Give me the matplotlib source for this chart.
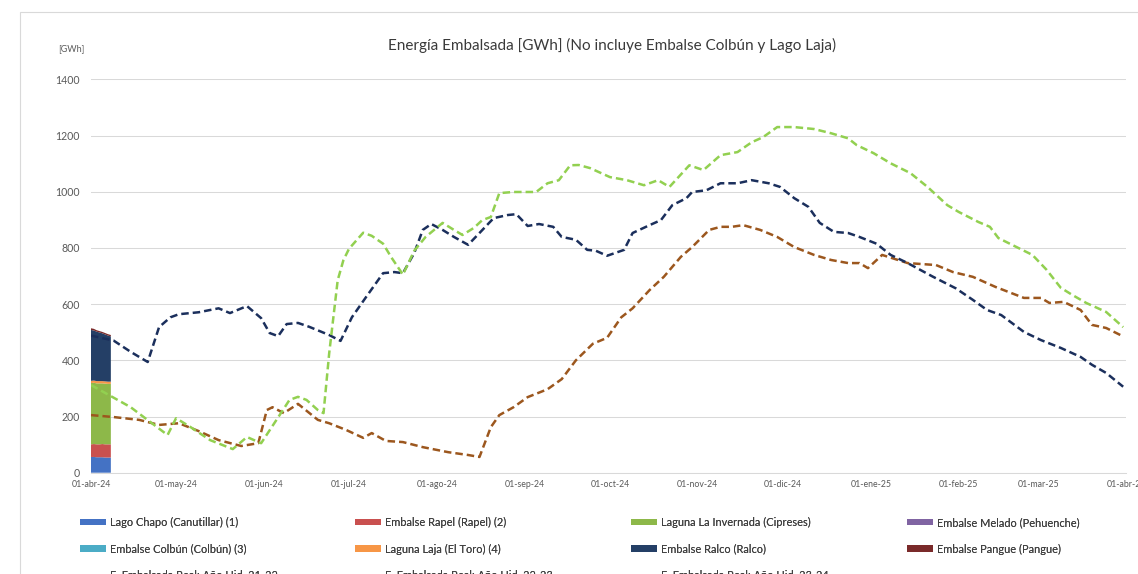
import numpy as np
import matplotlib
matplotlib.use("Agg")
import matplotlib.pyplot as plt
from matplotlib.patches import Patch, Rectangle
from matplotlib.lines import Line2D
from matplotlib.ticker import FixedLocator, FixedFormatter

plt.rcParams['font.family'] = ['Lato', 'DejaVu Sans']

START = np.datetime64('2024-04-01')

# --- current hydrological year 24-25 (stacked area, first days only)
area_days = [0, 1, 2, 3, 4, 5, 6, 7]
chapo = [56, 56, 55, 55, 55, 54, 54, 54]
rapel = [45, 46, 46, 46, 47, 47, 47, 47]
invernada = [218, 218, 217, 217, 216, 216, 215, 215]
melado = [0, 0, 0, 0, 0, 0, 0, 0]
colbun = [0, 0, 0, 0, 0, 0, 0, 0]
laja = [8, 8, 8, 8, 8, 8, 8, 8]
ralco = [181, 178, 176, 173, 170, 167, 164, 161]
pangue = [6, 6, 5, 5, 5, 5, 5, 5]

# --- E. Embalsada Real: Año Hid. 21-22
y2122_days = [0, 8, 17, 24, 31, 38, 45, 53, 59, 62, 64, 68, 73, 80, 84, 90, 96, 99, 104,
              110, 117, 126, 133, 137, 141, 144, 149, 154, 161, 166, 171, 177, 182, 187,
              191, 197, 202, 208, 212, 218, 222, 226, 230, 236, 242, 248, 255, 261, 267,
              271, 274, 279, 288, 298, 304, 311, 319, 329, 335, 338, 343, 349, 353, 358, 363]
y2122 = [205, 198, 188, 170, 176, 148, 116, 95, 105, 223, 233, 212, 245, 188, 176, 152, 124,
         141, 113, 109, 91, 73, 63, 56, 162, 205, 233, 269, 297, 333, 400, 459, 480, 553,
         585, 650, 697, 768, 803, 864, 875, 875, 881, 864, 839, 803, 775, 757, 746,
         746, 728, 775, 746, 739, 714, 697, 661, 622, 622, 604, 608, 579, 526, 515, 490]

# --- E. Embalsada Real: Año Hid. 22-23
y2223_days = [0, 8, 14, 20, 24, 28, 31, 38, 45, 49, 55, 60, 63, 66, 69, 73, 77, 84, 88, 92,
              97, 103, 107, 110, 114, 117, 120, 124, 128, 133, 137, 142, 147, 150, 154, 158,
              163, 166, 171, 175, 178, 182, 188, 191, 197, 201, 205, 210, 212, 217, 222,
              228, 233, 239, 243, 248, 253, 257, 262, 267, 271, 277, 282, 288, 297, 305,
              311, 316, 321, 329, 335, 342, 349, 353, 358, 364]
y2223 = [488, 470, 430, 394, 518, 553, 564, 571, 585, 568, 593, 550, 497, 486, 529, 533,
         519, 490, 469, 553, 625, 710, 714, 710, 782, 864, 885, 864, 839, 811, 853, 906,
         917, 920, 878, 885, 875, 839, 829, 793, 790, 772, 793, 853, 881, 899, 952, 977,
         999, 1005, 1030, 1030, 1041, 1030, 1017, 977, 946, 889, 857, 853, 839, 815, 775,
         746, 697, 656, 615, 579, 561, 501, 472, 444, 412, 384, 355, 306]

# --- E. Embalsada Real: Año Hid. 23-24
y2324_days = [0, 14, 27, 30, 35, 42, 50, 55, 60, 66, 70, 73, 76, 80, 82, 84, 87, 89, 91, 96,
              99, 103, 106, 110, 114, 118, 124, 128, 131, 135, 138, 141, 144, 149, 157, 161,
              165, 169, 172, 176, 183, 189, 195, 200, 204, 211, 216, 222, 228, 233, 237,
              242, 248, 255, 261, 267, 270, 276, 282, 289, 295, 302, 306, 313, 317, 320,
              327, 332, 337, 342, 346, 351, 358, 364]
y2324 = [312, 233, 134, 194, 163, 116, 84, 127, 105, 197, 259, 270, 259, 223, 212, 425, 685,
         756, 797, 854, 843, 815, 765, 705, 790, 839, 889, 864, 846, 871, 899, 910, 995, 999,
         999, 1030, 1041, 1094, 1095, 1084, 1052, 1041, 1023, 1041, 1017, 1094, 1077, 1130,
         1141, 1176, 1194, 1230, 1230, 1223, 1208, 1190, 1166, 1137, 1101, 1066, 1017, 952,
         928, 892, 875, 835, 800, 775, 722, 658, 633, 604, 572, 518]

month_labels = ['01-abr-24', '01-may-24', '01-jun-24', '01-jul-24', '01-ago-24', '01-sep-24',
                '01-oct-24', '01-nov-24', '01-dic-24', '01-ene-25', '01-feb-25', '01-mar-25',
                '01-abr-25']

area_names = ['Lago Chapo (Canutillar) (1)', 'Embalse Rapel (Rapel) (2)',
              'Laguna La Invernada (Cipreses)', 'Embalse Melado (Pehuenche)',
              'Embalse Colbún (Colbún) (3)', 'Laguna Laja (El Toro) (4)',
              'Embalse Ralco (Ralco)', 'Embalse Pangue (Pangue)']
area_colors = ['#4472C4', '#C9504F', '#8DB849', '#8064A2', '#4BACC6', '#F79646',
               '#243F66', '#7A2A2A']
line_names = ['E. Embalsada Real: Año Hid. 21-22', 'E. Embalsada Real: Año Hid. 22-23',
              'E. Embalsada Real: Año Hid. 23-24']
line_colors = ['#9C571E', '#1B2F5C', '#92D050']

W, H = 1138, 574
fig = plt.figure(figsize=(W / 100, H / 100), dpi=100)
fig.patch.set_facecolor('white')

# outer chart border (cut by the image edge)
fig.patches.append(Rectangle((20 / W, -0.2), 1.2, 1.2 - 12 / H,
                             transform=fig.transFigure, fill=False,
                             edgecolor='#D9D9D9', linewidth=0.8))

ax = fig.add_axes([91 / W, 101.3 / H, 1035 / W, 393.4 / H])

# stacked area
ax_dates = START + np.array(area_days)
stack = np.vstack([chapo, rapel, invernada, melado, colbun, laja, ralco, pangue])
ax.stackplot(ax_dates, stack, colors=area_colors, linewidth=0, zorder=2)

# dashed lines
ls = (0, (3, 1.6))
for d, v, c in [(y2122_days, y2122, line_colors[0]),
                (y2223_days, y2223, line_colors[1]),
                (y2324_days, y2324, line_colors[2])]:
    ax.plot(START + np.array(d), v, color=c, linewidth=1.8, linestyle=ls, zorder=3)

ax.set_ylim(0, 1400)
ax.set_xlim(START, START + 365)
ax.set_yticks(range(0, 1401, 200))
ax.yaxis.grid(True, color='#D9D9D9', linewidth=0.75)
ax.set_axisbelow(True)
for s in ['top', 'right', 'left']:
    ax.spines[s].set_visible(False)
ax.spines['bottom'].set_color('#D9D9D9')
ax.spines['bottom'].set_linewidth(0.75)

month_starts = np.arange('2024-04', '2025-05', dtype='datetime64[M]').astype('datetime64[D]')
ax.xaxis.set_major_locator(FixedLocator(matplotlib.dates.date2num(month_starts)))
ax.xaxis.set_major_formatter(FixedFormatter(month_labels))
ax.tick_params(axis='x', length=0, pad=5, labelsize=6.3, labelcolor='#595959')
ax.tick_params(axis='y', length=0, pad=8, labelsize=7.6, labelcolor='#595959')
for lab in ax.get_xticklabels():
    lab.set_clip_on(False)

fig.text(612 / W, 1 - 45 / H, 'Energía Embalsada [GWh] (No incluye Embalse Colbún y Lago Laja)',
         ha='center', va='center', fontsize=11, color='#3A3A3A')
fig.text(71 / W, 1 - 49 / H, '[GWh]', ha='center', va='center', fontsize=6.5,
         color='#595959')

# legend: four fixed-width columns, row-wise order like the original
patches = [Patch(facecolor=c, edgecolor='none', label=n) for n, c in zip(area_names, area_colors)]
lines = [Line2D([], [], color=c, linewidth=1.8, linestyle=ls, label=n)
         for n, c in zip(line_names, line_colors)]
columns = [
    [patches[0], patches[4], lines[0]],
    [patches[1], patches[5], lines[1]],
    [patches[2], patches[6], lines[2]],
    [patches[3], patches[7]],
]
col_x = [80, 355, 631, 907]
for hs, x in zip(columns, col_x):
    leg = fig.legend(handles=hs, loc='upper left', bbox_to_anchor=(x / W, 1 - 517 / H),
                     bbox_transform=fig.transFigure, frameon=False, fontsize=7.9,
                     handlelength=2.4, handleheight=0.55, handletextpad=0.3,
                     labelspacing=1.42, borderpad=0, borderaxespad=0,
                     labelcolor='#404040')
    fig.add_artist(leg)

fig.savefig('out.png', dpi=100)
